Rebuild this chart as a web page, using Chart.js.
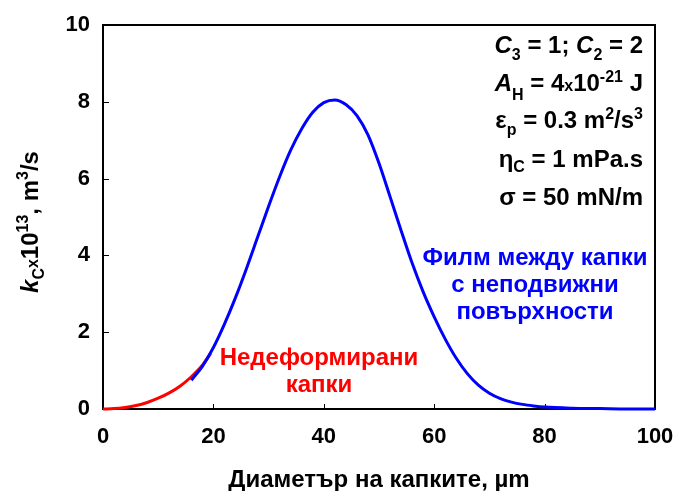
<!DOCTYPE html>
<html>
<head>
<meta charset="utf-8">
<script src="https://cdn.jsdelivr.net/npm/chart.js@4/dist/chart.umd.min.js"></script>
<style>
  html, body { margin: 0; padding: 0; background: #fff; }
  canvas { display: block; }
</style>
</head>
<body>
<canvas id="chart" width="676" height="491"></canvas>
<script>
// Droplet diameter, µm, and coalescence rate constant k_C ×10^13, m^3/s
const undeformedDiameter = [0, 2, 4, 6, 8, 10, 12, 14, 16, 18, 19.5];
const undeformedRate     = [0, 0.01, 0.04, 0.09, 0.17, 0.28, 0.42, 0.6, 0.84, 1.14, 1.45];

const filmDiameter = [16, 18, 20, 22, 24, 26, 28, 30, 32, 34, 36, 38, 40, 42, 44, 46, 48, 50,
                      52, 54, 56, 58, 60, 62, 64, 66, 68, 70, 72, 74, 76, 78, 80, 85, 90, 95, 100];
const filmRate     = [0.75, 1.11, 1.6, 2.21, 2.9, 3.66, 4.47, 5.28, 6.05, 6.74, 7.3, 7.73, 7.98, 8.05,
                      7.93, 7.64, 7.14, 6.4, 5.53, 4.65, 3.8, 3.05, 2.4, 1.82, 1.32, 0.92, 0.62, 0.41,
                      0.27, 0.18, 0.12, 0.08, 0.05, 0.02, 0.01, 0, 0];

const xTicks = [0, 20, 40, 60, 80, 100];
const yTicks = [0, 2, 4, 6, 8, 10];

const FONT = '"Liberation Sans", Arial, Helvetica, sans-serif';

function toPoints(xs, ys) { return xs.map((x, i) => ({ x: x, y: ys[i] })); }

// ---- rich text helpers (sub/superscripts) ----
const N   = (t) => ({ t, size: 24 });
const I   = (t) => ({ t, size: 24, italic: true });
const SUB = (t, drop) => ({ t, size: 16, dy: drop === undefined ? 7 : drop });
const SUP = (t, rise) => ({ t, size: 16, dy: -(rise === undefined ? 9 : rise) });
const SM  = (t) => ({ t, size: 16 });

function fontOf(p) { return (p.italic ? 'italic ' : '') + 'bold ' + p.size + 'px ' + FONT; }

function drawRich(ctx, parts, x, y, align, color) {
  let total = 0;
  parts.forEach(p => { ctx.font = fontOf(p); p.w = ctx.measureText(p.t).width; total += p.w; });
  let cx = align === 'right' ? x - total : (align === 'center' ? x - total / 2 : x);
  ctx.textAlign = 'left';
  ctx.textBaseline = 'alphabetic';
  ctx.fillStyle = color || '#000';
  parts.forEach(p => {
    ctx.font = fontOf(p);
    ctx.fillText(p.t, cx, y + (p.dy || 0));
    cx += p.w;
  });
}

// Box around the plot with inward tick marks
const framePlugin = {
  id: 'frame',
  beforeDatasetsDraw(chart) {
    const { ctx, chartArea: a, scales } = chart;
    ctx.save();
    ctx.strokeStyle = '#000';
    ctx.lineWidth = 1;
    ctx.beginPath();
    xTicks.forEach(v => {
      const px = Math.round(scales.x.getPixelForValue(v)) + 0.5;
      ctx.moveTo(px, a.bottom); ctx.lineTo(px, a.bottom - 5);
    });
    yTicks.forEach(v => {
      const py = Math.round(scales.y.getPixelForValue(v)) + 0.5;
      ctx.moveTo(a.left, py); ctx.lineTo(a.left + 6, py);
    });
    ctx.stroke();
    ctx.lineWidth = 2;
    ctx.strokeRect(a.left, a.top, a.right - a.left, a.bottom - a.top);
    ctx.restore();
  }
};

// Axis titles, parameter block and curve labels
const textPlugin = {
  id: 'texts',
  afterDraw(chart) {
    const ctx = chart.ctx;
    ctx.save();

    // x axis title
    drawRich(ctx, [N('Диаметър на капките, µm')], 379, 487, 'center');

    // y axis title (rotated)
    ctx.save();
    ctx.translate(38, 222);
    ctx.rotate(-Math.PI / 2);
    drawRich(ctx, [I('k'), SUB('C', 6), SM('x'), N('10'), SUP('13', 10), N(', m'), SUP('3', 10), N('/s')], 0, 0, 'center');
    ctx.restore();

    // parameters
    const R = 643;
    drawRich(ctx, [I('C'), SUB('3'), N(' = 1; '), I('C'), SUB('2'), N(' = 2')], R, 53, 'right');
    drawRich(ctx, [I('A'), SUB('H', 9), N(' = 4'), SM('x'), N('10'), SUP('-21', 9), N(' J')], R, 90.5, 'right');
    drawRich(ctx, [N('ε'), SUB('p'), N(' = 0.3 m'), SUP('2'), N('/s'), SUP('3')], R, 128, 'right');
    drawRich(ctx, [N('η'), SUB('C', 5), N(' = 1 mPa.s')], R, 166.5, 'right');
    drawRich(ctx, [N('σ = 50 mN/m')], R, 204.5, 'right');

    // curve labels
    drawRich(ctx, [N('Недеформирани')], 319, 365, 'center', '#FF0000');
    drawRich(ctx, [N('капки')], 319, 392, 'center', '#FF0000');
    drawRich(ctx, [N('Филм между капки')], 535, 265, 'center', '#0000FF');
    drawRich(ctx, [N('с неподвижни')], 535, 292, 'center', '#0000FF');
    drawRich(ctx, [N('повърхности')], 535, 319, 'center', '#0000FF');

    ctx.restore();
  }
};

const tickFont = { family: FONT, size: 22, weight: 'bold' };

new Chart(document.getElementById('chart'), {
  type: 'line',
  data: {
    datasets: [
      {
        label: 'Филм между капки с неподвижни повърхности',
        data: toPoints(filmDiameter, filmRate),
        borderColor: '#0000FF',
        borderWidth: 3,
        pointRadius: 0,
        cubicInterpolationMode: 'monotone',
        fill: false,
        clip: 4
      },
      {
        label: 'Недеформирани капки',
        data: toPoints(undeformedDiameter, undeformedRate),
        borderColor: '#FF0000',
        borderWidth: 3,
        pointRadius: 0,
        cubicInterpolationMode: 'monotone',
        fill: false,
        clip: 4
      }
    ]
  },
  options: {
    responsive: false,
    animation: false,
    layout: { padding: { left: 0, right: 21, top: 25, bottom: 0 } },
    plugins: { legend: { display: false }, tooltip: { enabled: false } },
    scales: {
      x: {
        type: 'linear', min: 0, max: 100,
        afterBuildTicks(s) { s.ticks = xTicks.map(v => ({ value: v })); },
        ticks: { font: tickFont, color: '#000', padding: 15, maxRotation: 0, autoSkip: false },
        grid: { display: false, drawTicks: false },
        border: { display: false },
        afterFit(s) { s.height = 82; s.paddingLeft = 0; s.paddingRight = 0; }
      },
      y: {
        type: 'linear', min: 0, max: 10,
        afterBuildTicks(s) { s.ticks = yTicks.map(v => ({ value: v })); },
        ticks: { font: tickFont, color: '#000', padding: 13, autoSkip: false },
        grid: { display: false, drawTicks: false },
        border: { display: false },
        afterFit(s) { s.width = 103; s.paddingTop = 0; s.paddingBottom = 0; }
      }
    }
  },
  plugins: [framePlugin, textPlugin]
});
</script>
</body>
</html>
